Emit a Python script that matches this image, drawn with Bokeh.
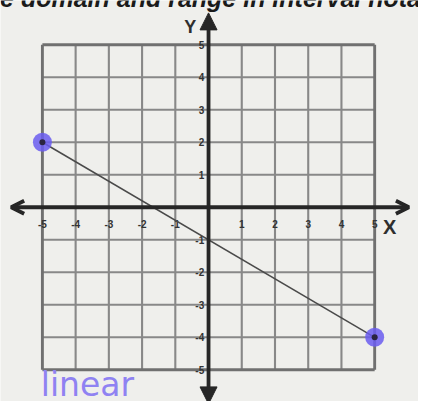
from bokeh.plotting import figure
from bokeh.models import Arrow, OpenHead, NormalHead, Range1d
from bokeh.core.properties import value
from bokeh.embed import file_html
from bokeh.resources import INLINE

# ---- data ----
x_ticks = [-5, -4, -3, -2, -1, 1, 2, 3, 4, 5]
y_ticks = [-5, -4, -3, -2, -1, 1, 2, 3, 4, 5]
x_tick_labels = ["-5", "-4", "-3", "-2", "-1", "1", "2", "3", "4", "5"]
y_tick_labels = ["-5", "-4", "-3", "-2", "-1", "1", "2", "3", "4", "5"]
seg_x = [-5, 5]
seg_y = [2, -4]
title_text = "Write the domain and range in interval notation"
note_text = "linear"
grid_min, grid_max = -5, 5

# ---- figure ----
W, H = 418, 401
x0, x1 = -6.261, 6.319
y0, y1 = -5.976, 6.361
paper = "#efefec"

p = figure(width=W, height=H, x_range=Range1d(x0, x1), y_range=Range1d(y0, y1),
           output_backend="svg", toolbar_location=None, min_border=0,
           x_axis_type=None, y_axis_type=None)
p.grid.visible = False
p.outline_line_color = None
p.background_fill_color = paper
p.border_fill_color = paper

# grid lines (inner)
inner_v = [t for t in x_ticks if t not in (grid_min, grid_max)]
inner_h = [t for t in y_ticks if t not in (grid_min, grid_max)]
p.segment(x0=inner_v, y0=[grid_min] * len(inner_v), x1=inner_v, y1=[grid_max] * len(inner_v),
          line_color="#888888", line_width=2.1)
p.segment(x0=[grid_min] * len(inner_h), y0=inner_h, x1=[grid_max] * len(inner_h), y1=inner_h,
          line_color="#888888", line_width=2.1)
# border of grid
p.segment(x0=[grid_min, grid_max], y0=[grid_min, grid_min], x1=[grid_min, grid_max], y1=[grid_max, grid_max],
          line_color="#707070", line_width=2.9)
p.segment(x0=[grid_min, grid_min], y0=[grid_min, grid_max], x1=[grid_max, grid_max], y1=[grid_min, grid_max],
          line_color="#707070", line_width=2.9)

# axes with arrowheads
ax_col = "#262626"
p.add_layout(Arrow(start=OpenHead(size=13, line_width=3.8, line_color=ax_col),
                   end=OpenHead(size=13, line_width=3.8, line_color=ax_col),
                   x_start=-5.94, y_start=0, x_end=6.03, y_end=0,
                   line_color=ax_col, line_width=3.8))
p.add_layout(Arrow(start=NormalHead(size=17, line_color=ax_col, fill_color=ax_col),
                   end=NormalHead(size=17, line_color=ax_col, fill_color=ax_col),
                   x_start=0, y_start=-6.05, x_end=0, y_end=5.98,
                   line_color=ax_col, line_width=3.8))

# tick labels
p.text(x=x_ticks, y=[-0.5] * len(x_ticks), text=x_tick_labels,
       text_font=value("Liberation Sans"), text_font_style="bold", text_font_size="10px",
       text_color="#333333", text_align="center", text_baseline="middle")
p.text(x=[-0.13] * len(y_ticks), y=y_ticks, text=y_tick_labels,
       text_font=value("Liberation Sans"), text_font_style="bold", text_font_size="10px",
       text_color="#333333", text_align="right", text_baseline="middle")

# axis letters
p.text(x=[5.45], y=[-0.6], text=["X"], text_font=value("Liberation Sans"), text_font_style="bold",
       text_font_size="20px", text_color="#2e2e2e", text_align="center", text_baseline="middle")
p.text(x=[-0.55], y=[5.56], text=["Y"], text_font=value("Liberation Sans"), text_font_style="bold",
       text_font_size="18px", text_color="#2e2e2e", text_align="center", text_baseline="middle")

# the drawn segment and its endpoints
p.line(seg_x, seg_y, line_color="#4a4a4a", line_width=1.5)
p.scatter(seg_x, seg_y, size=19, fill_color="#6a5cf0", line_color=None, fill_alpha=0.85)
p.scatter(seg_x, seg_y, size=6, fill_color="#2a2440", line_color=None)

# handwritten note
p.text(x=[-5.05], y=[-5.45], text=[note_text], text_font=value("DejaVu Sans"),
       text_font_size="33px", text_color="#8f82f2", text_align="left", text_baseline="middle")

# header text (cut off at the top edge, as in the scan)
p.text(x=[-9.06], y=[6.43], text=[title_text], text_font=value("Liberation Sans"),
       text_font_style="bold italic", text_font_size="25px", text_color="#1a1a1a",
       text_align="left", text_baseline="middle")

open("out.html", "w").write(file_html(p, INLINE))
